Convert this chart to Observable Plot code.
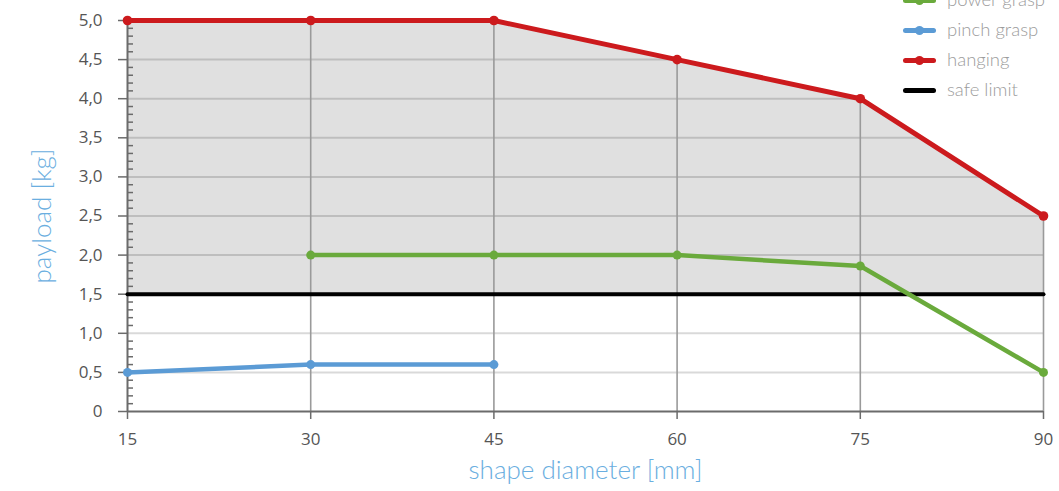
<!DOCTYPE html>
<html>
<head>
<meta charset="utf-8">
<script src="https://cdn.jsdelivr.net/npm/d3@7"></script>
<script src="https://cdn.jsdelivr.net/npm/@observablehq/plot@0.6"></script>
<style>
  html, body { margin: 0; padding: 0; background: #fff; overflow: hidden; }
  #wrap { position: relative; width: 1059px; height: 491px; }
  #legend { position: absolute; left: 903px; top: 0; font-family: "Lato", "Open Sans", sans-serif; font-weight: 300; font-size: 18.5px; color: #9c9c9c; }
  .item { position: absolute; left: 0; height: 20px; width: 160px; }
  .sw { position: absolute; left: 0; top: 8px; width: 33px; height: 5px; border-radius: 3px; }
  .dot { position: absolute; left: 12px; top: 6px; width: 9px; height: 9px; border-radius: 50%; }
  .lab { position: absolute; left: 44px; top: -2px; white-space: nowrap; }
</style>
</head>
<body>
<div id="wrap"></div>
<script>
const diameters = [15, 30, 45, 60, 75, 90];
const powerX = [30, 45, 60, 75, 90];
const powerY = [2.0, 2.0, 2.0, 1.86, 0.5];
const pinchX = [15, 30, 45];
const pinchY = [0.5, 0.6, 0.6];
const hangingX = [15, 30, 45, 60, 75, 90];
const hangingY = [5.0, 5.0, 5.0, 4.5, 4.0, 2.5];
const safeLimit = 1.5;
const yTicks = [0, 0.5, 1, 1.5, 2, 2.5, 3, 3.5, 4, 4.5, 5];
const yMinor = d3.range(1, 50).map(i => i / 10).filter(v => Math.round(v * 10) % 5 !== 0);

const seriesNames = ["power grasp", "pinch grasp", "hanging", "safe limit"];
const colors = {"power grasp": "#6aaa3c", "pinch grasp": "#5b9bd5", "hanging": "#cc1a1d", "safe limit": "#000000"};

const power = powerX.map((x, i) => ({x, y: powerY[i]}));
const pinch = pinchX.map((x, i) => ({x, y: pinchY[i]}));
const hanging = hangingX.map((x, i) => ({x, y: hangingY[i]}));
const safe = [{x: diameters[0], y: safeLimit}, {x: diameters[diameters.length - 1], y: safeLimit}];

const fmt = d => d === 0 ? "0" : d.toFixed(1).replace(".", ",");

const chart = Plot.plot({
  width: 1059,
  height: 491,
  marginLeft: 127,
  marginRight: 16,
  marginTop: 20,
  marginBottom: 80,
  style: {fontFamily: "'Open Sans', sans-serif", fontSize: "17px", color: "#555", background: "transparent", overflow: "visible"},
  x: {domain: [15, 90]},
  y: {domain: [0, 5]},
  marks: [
    Plot.areaY(hanging, {x: "x", y1: safeLimit, y2: "y", fill: "#e0e0e0"}),
    Plot.ruleY(yTicks.filter(d => d > 0 && d < 5), {stroke: "#000", strokeOpacity: 0.15, strokeWidth: 2}),
    Plot.areaY(hanging, {x: "x", y1: "y", y2: 5, fill: "#fff"}),
    Plot.ruleX(hanging.filter(d => d.x > 15), {x: "x", y1: 0, y2: "y", stroke: "#9a9a9a", strokeWidth: 1.6}),
    Plot.ruleY(yMinor, {x1: 15, x2: 15, insetRight: -6, stroke: "#6b6b6b", strokeWidth: 1.5}),
    Plot.ruleX([15], {y1: 0, y2: 5, stroke: "#6b6b6b", strokeWidth: 2}),
    Plot.ruleY([0], {stroke: "#6b6b6b", strokeWidth: 2}),
    Plot.axisY({ticks: yTicks, tickFormat: fmt, tickSize: 9, tickPadding: 16, stroke: "#6b6b6b", strokeWidth: 1.5, label: null, fill: "#555"}),
    Plot.axisX({ticks: diameters, tickFormat: d => String(d), tickSize: 8, tickPadding: 13, stroke: "#6b6b6b", strokeWidth: 1.5, label: null, fill: "#555"}),
    Plot.lineY(safe, {x: "x", y: "y", stroke: colors["safe limit"], strokeWidth: 4}),
    Plot.lineY(pinch, {x: "x", y: "y", stroke: colors["pinch grasp"], strokeWidth: 4.5}),
    Plot.dot(pinch, {x: "x", y: "y", r: 4.5, fill: colors["pinch grasp"]}),
    Plot.lineY(power, {x: "x", y: "y", stroke: colors["power grasp"], strokeWidth: 4.5}),
    Plot.dot(power, {x: "x", y: "y", r: 4.5, fill: colors["power grasp"]}),
    Plot.lineY(hanging, {x: "x", y: "y", stroke: colors["hanging"], strokeWidth: 5}),
    Plot.dot(hanging, {x: "x", y: "y", r: 4.8, fill: colors["hanging"]}),
    Plot.text(["payload [kg]"], {frameAnchor: "left", textAnchor: "middle", rotate: -90, dx: -85, fontSize: 26, fill: "#6aaee0", fontFamily: "Lato, 'Open Sans', sans-serif", fontWeight: 300}),
    Plot.text(["shape diameter [mm]"], {frameAnchor: "bottom", textAnchor: "middle", dy: 67, fontSize: 26, fill: "#6aaee0", fontFamily: "Lato, 'Open Sans', sans-serif", fontWeight: 300})
  ]
});

const wrap = document.getElementById("wrap");
wrap.appendChild(chart);

const legend = document.createElement("div");
legend.id = "legend";
seriesNames.forEach((name, i) => {
  const item = document.createElement("div");
  item.className = "item";
  item.style.top = (i * 30 - 10) + "px";
  const sw = document.createElement("div");
  sw.className = "sw";
  sw.style.background = colors[name];
  item.appendChild(sw);
  if (name !== "safe limit") {
    const dot = document.createElement("div");
    dot.className = "dot";
    dot.style.background = colors[name];
    item.appendChild(dot);
  }
  const lab = document.createElement("div");
  lab.className = "lab";
  lab.textContent = name;
  item.appendChild(lab);
  legend.appendChild(item);
});
wrap.appendChild(legend);
</script>
</body>
</html>
